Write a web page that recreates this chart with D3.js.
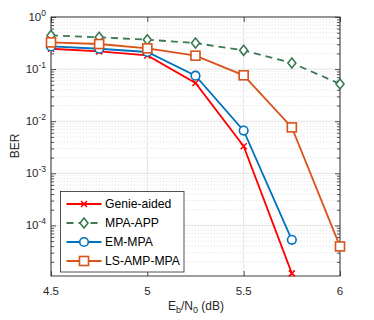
<!DOCTYPE html>
<html><head><meta charset="utf-8">
<script src="https://cdn.jsdelivr.net/npm/d3@7"></script>
<style>body{margin:0;background:#fff}svg{display:block;font-family:"Liberation Sans",Arial,sans-serif}</style>
</head><body>
<svg id="c" width="374" height="320"></svg>
<script>
const snr = [4.5, 4.75, 5, 5.25, 5.5, 5.75, 6];
const genie = [0.246, 0.219, 0.183, 0.054, 0.0033, 1.2e-5];
const mpaApp = [0.443, 0.407, 0.367, 0.316, 0.229, 0.131, 0.052];
const emMpa = [0.273, 0.246, 0.213, 0.0747, 0.0066, 5.3e-5];
const lsAmp = [0.326, 0.303, 0.25, 0.181, 0.076, 0.0076, 3.95e-5];
const xTicks = [4.5, 5, 5.5, 6];
const yTickExp = [0, -1, -2, -3, -4];
const names = ["Genie-aided", "MPA-APP", "EM-MPA", "LS-AMP-MPA"];

const svg = d3.select("#c");
const L = 51, R = 340, T = 17, B = 276;
const x = d3.scaleLinear().domain([4.5, 6]).range([L, R]);
const y = d3.scaleLog().domain([1.07e-5, 1]).range([B, T]);
const axisC = "#262626";

// minor grid
const minors = [];
for (let e = -5; e < 0; e++) for (let m = 2; m <= 9; m++) { const v = m * Math.pow(10, e); if (v >= 1.07e-5 && v < 1) minors.push(v); }
svg.append("g").selectAll("line").data(minors).join("line")
  .attr("x1", L).attr("x2", R).attr("y1", d => y(d)).attr("y2", d => y(d))
  .attr("stroke", "#d4d4d4").attr("stroke-width", 0.8).attr("stroke-dasharray", "1,2.2");
// major grid
const majors = yTickExp.map(e => Math.pow(10, e));
svg.append("g").selectAll("line").data(majors).join("line")
  .attr("x1", L).attr("x2", R).attr("y1", d => y(d)).attr("y2", d => y(d))
  .attr("stroke", "#e3e3e3").attr("stroke-width", 1);
svg.append("g").selectAll("line").data(xTicks).join("line")
  .attr("x1", d => x(d)).attr("x2", d => x(d)).attr("y1", T).attr("y2", B)
  .attr("stroke", "#e3e3e3").attr("stroke-width", 1);

// axes with ticks inside
const gL = svg.append("g").attr("transform", `translate(${L},0)`)
  .call(d3.axisRight(y).tickValues(majors).tickSize(5).tickFormat(""));
const gLm = svg.append("g").attr("transform", `translate(${L},0)`)
  .call(d3.axisRight(y).tickValues(minors).tickSize(3).tickFormat(""));
const gR = svg.append("g").attr("transform", `translate(${R},0)`)
  .call(d3.axisLeft(y).tickValues(majors).tickSize(5).tickFormat(""));
const gRm = svg.append("g").attr("transform", `translate(${R},0)`)
  .call(d3.axisLeft(y).tickValues(minors).tickSize(3).tickFormat(""));
const gB = svg.append("g").attr("transform", `translate(0,${B})`)
  .call(d3.axisTop(x).tickValues(xTicks).tickSize(5).tickFormat(""));
const gT = svg.append("g").attr("transform", `translate(0,${T})`)
  .call(d3.axisBottom(x).tickValues(xTicks).tickSize(5).tickFormat(""));
[gL, gLm, gR, gRm, gB, gT].forEach(g => { g.selectAll("line").attr("stroke", axisC).attr("stroke-width", 0.8); g.select(".domain").remove(); });
svg.append("rect").attr("x", L).attr("y", T).attr("width", R - L).attr("height", B - T)
  .attr("fill", "none").attr("stroke", axisC).attr("stroke-width", 0.9);

// tick labels
svg.append("g").selectAll("text").data(xTicks).join("text")
  .attr("x", d => x(d)).attr("y", B + 19).attr("text-anchor", "middle")
  .attr("font-size", 11.5).attr("fill", axisC).text(d => d);
const yl = svg.append("g").selectAll("text").data(yTickExp).join("text")
  .attr("x", 46).attr("y", d => y(Math.pow(10, d)) + 4).attr("text-anchor", "end")
  .attr("font-size", 11.5).attr("fill", axisC);
yl.append("tspan").text("10");
yl.append("tspan").attr("dy", -5).attr("font-size", 8.5).text(d => d);

// axis labels
const xl = svg.append("text").attr("x", 196).attr("y", 310).attr("text-anchor", "middle")
  .attr("font-size", 12).attr("fill", axisC);
xl.append("tspan").text("E");
xl.append("tspan").attr("dy", 3).attr("font-size", 9).text("b");
xl.append("tspan").attr("dy", -3).text("/N");
xl.append("tspan").attr("dy", 3).attr("font-size", 9).text("0");
xl.append("tspan").attr("dy", -3).text(" (dB)");
svg.append("text").attr("transform", `translate(19,146) rotate(-90)`).attr("text-anchor", "middle")
  .attr("font-size", 12).attr("fill", axisC).text("BER");

// series
const series = [
  {data: genie, color: "#ff0000", dash: null, marker: "x"},
  {data: mpaApp, color: "#3b7a52", dash: "7,5", marker: "diamond"},
  {data: emMpa, color: "#0072bd", dash: null, marker: "circle"},
  {data: lsAmp, color: "#d95319", dash: null, marker: "square"}
];
const line = d3.line().x((d, i) => x(snr[i])).y(d => y(d));
function drawMarker(g, type, cx, cy, color) {
  if (type === "x") {
    const s = 3;
    g.append("path").attr("d", `M${cx - s},${cy - s}L${cx + s},${cy + s}M${cx - s},${cy + s}L${cx + s},${cy - s}`)
      .attr("stroke", color).attr("stroke-width", 1.6).attr("fill", "none");
  } else if (type === "circle") {
    g.append("circle").attr("cx", cx).attr("cy", cy).attr("r", 4.3)
      .attr("fill", "#fff").attr("stroke", color).attr("stroke-width", 1.6);
  } else if (type === "square") {
    g.append("rect").attr("x", cx - 4.5).attr("y", cy - 4.5).attr("width", 9).attr("height", 9)
      .attr("fill", "#fff").attr("stroke", color).attr("stroke-width", 1.6);
  } else if (type === "diamond") {
    const s = 5;
    g.append("path").attr("d", `M${cx},${cy - s}L${cx + s * 0.8},${cy}L${cx},${cy + s}L${cx - s * 0.8},${cy}Z`)
      .attr("fill", "#fff").attr("stroke", color).attr("stroke-width", 1.6);
  }
}
const plot = svg.append("g");
series.forEach(s => {
  plot.append("path").datum(s.data).attr("d", line).attr("fill", "none")
    .attr("stroke", s.color).attr("stroke-width", 1.8)
    .attr("stroke-dasharray", s.dash);
});
series.forEach(s => {
  s.data.forEach((v, i) => drawMarker(plot, s.marker, x(snr[i]), y(v), s.color));
});

// legend
const lg = svg.append("g");
lg.append("rect").attr("x", 60.5).attr("y", 191.5).attr("width", 123.5).attr("height", 80.5)
  .attr("fill", "#fff").attr("stroke", axisC).attr("stroke-width", 0.8);
const rowY = [204, 223, 242, 261];
series.forEach((s, i) => {
  lg.append("line").attr("x1", 66.5).attr("x2", 101.5).attr("y1", rowY[i]).attr("y2", rowY[i])
    .attr("stroke", s.color).attr("stroke-width", 1.8).attr("stroke-dasharray", s.dash);
  drawMarker(lg, s.marker, 84, rowY[i], s.color);
  lg.append("text").attr("x", 105).attr("y", rowY[i] + 4.2).attr("font-size", 12.2)
    .attr("fill", "#000").text(names[i]);
});
</script>
</body></html>
